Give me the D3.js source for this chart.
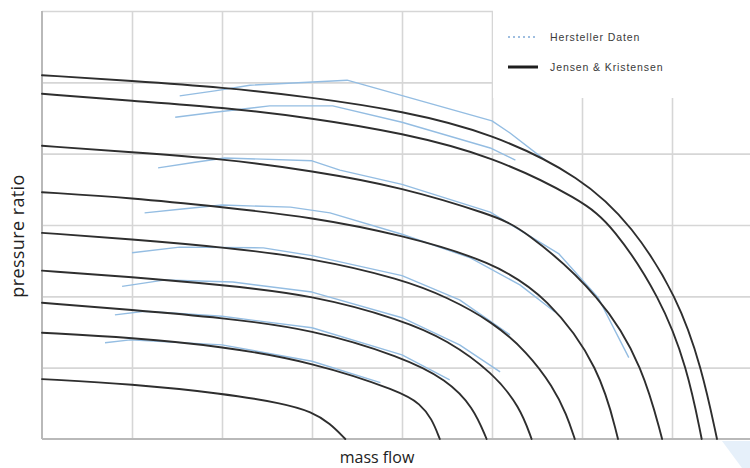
<!DOCTYPE html>
<html>
<head>
<meta charset="utf-8">
<script src="https://cdn.jsdelivr.net/npm/d3@7"></script>
<style>
  body { margin: 0; background: #fff; }
  svg { display: block; }
</style>
</head>
<body>
<svg id="chart" width="750" height="468"></svg>
<script>
// Grid positions (arbitrary units, axes carry no labels)
const massFlowTicks = [0, 1, 2, 3, 4, 5, 6, 7, 8];
const pressureTicks = [0, 1, 2, 3, 4, 5, 6];

// Jensen & Kristensen model: one speed line each, [mass flow, pressure ratio]
const jk1 = [[0,5.10],[1,5.02],[2,4.93],[3,4.79],[4,4.60],[5,4.29],[6,3.67],[6.56,2.99],[7.06,1.99],[7.33,1.00],[7.5,0]];
const jk2 = [[0,4.84],[1,4.74],[2,4.65],[3,4.50],[4,4.29],[5,3.97],[6,3.35],[6.34,2.99],[6.87,1.99],[7.17,1.00],[7.33,0]];
const jk3 = [[0,4.11],[1,4.02],[2,3.93],[3,3.76],[4,3.53],[5,3.14],[5.34,2.96],[6.23,1.99],[6.68,1.00],[6.89,0]];
const jk4 = [[0,3.46],[1,3.38],[2,3.25],[3,3.11],[4,2.86],[5,2.49],[5.62,1.99],[6.2,1.00],[6.4,0]];
const jk5 = [[0,2.89],[1,2.80],[2,2.69],[3,2.54],[4,2.24],[4.5,1.99],[5.01,1.64],[5.39,1.22],[5.68,0.73],[5.83,0.34],[5.92,0]];
const jk6 = [[0,2.36],[1,2.27],[2,2.16],[3,2.02],[4,1.67],[4.5,1.39],[5.01,0.93],[5.31,0.45],[5.44,0]];
const jk7 = [[0,1.91],[1,1.81],[2,1.70],[3,1.54],[4,1.15],[4.5,0.83],[4.79,0.45],[4.94,0]];
const jk8 = [[0,1.49],[1,1.42],[2,1.30],[3,1.08],[4,0.66],[4.2,0.49],[4.33,0.29],[4.42,0]];
const jk9 = [[0,0.84],[1,0.77],[2,0.64],[2.68,0.50],[3,0.38],[3.2,0.22],[3.37,0]];

// Manufacturer map (Hersteller Daten), measured speed lines
const hd1 = [[1.53,4.81],[1.92,4.88],[2.31,4.96],[3.39,5.03],[5.0,4.46],[5.2,4.29],[5.59,3.91]];
const hd2 = [[1.48,4.51],[1.92,4.58],[2.53,4.67],[3.23,4.67],[4.0,4.44],[4.98,4.08],[5.26,3.91]];
const hd3 = [[1.29,3.80],[1.7,3.88],[2.03,3.94],[3.0,3.90],[3.31,3.77],[4.0,3.57],[4.98,3.18],[5.74,2.60],[6.18,1.98],[6.52,1.14]];
const hd4 = [[1.14,3.17],[1.53,3.22],[2.0,3.28],[2.76,3.25],[3.2,3.17],[4.0,2.87],[4.76,2.54],[5.31,2.16],[5.7,1.78]];
const hd5 = [[1.0,2.61],[1.53,2.69],[2.46,2.68],[3.0,2.57],[4.0,2.29],[4.64,1.95],[5.2,1.46]];
const hd6 = [[0.89,2.14],[1.37,2.23],[2.12,2.20],[3.0,2.06],[4.0,1.70],[4.64,1.32],[5.09,0.94]];
const hd7 = [[0.81,1.74],[1.14,1.79],[2.0,1.72],[3.0,1.56],[4.0,1.18],[4.53,0.83]];
const hd8 = [[0.7,1.35],[0.98,1.39],[2.0,1.32],[3.0,1.09],[3.76,0.79]];

const legendLabels = ["Hersteller Daten", "Jensen & Kristensen"];

const jensenLines = [jk1, jk2, jk3, jk4, jk5, jk6, jk7, jk8, jk9];
const herstellerLines = [hd1, hd2, hd3, hd4, hd5, hd6, hd7, hd8];

const svg = d3.select("#chart");
const plotLeft = 42, plotRight = 762, plotTop = 11, plotBottom = 439;

const x = d3.scaleLinear().domain([0, 8]).range([plotLeft, plotRight]);
const y = d3.scaleLinear().domain([0, 6]).range([plotBottom, plotTop]);

// soft background decoration in the corners
svg.append("path")
  .attr("d", "M578,0 L750,0 L750,9 L588,9 Z")
  .attr("fill", "#edf4fb");
svg.append("path")
  .attr("d", "M722,441 L750,441 L750,468 L742,468 Z")
  .attr("fill", "#e6f0fa");

// grid
const gridColor = "#d6d6d6";
const gx = svg.append("g")
  .attr("transform", `translate(0,${plotBottom})`)
  .call(d3.axisBottom(x).tickValues(massFlowTicks.slice(1)).tickSize(-(plotBottom - plotTop)).tickFormat(""));
gx.select(".domain").remove();
gx.selectAll("line").attr("stroke", gridColor).attr("stroke-width", 1.6);

const gy = svg.append("g")
  .attr("transform", `translate(${plotLeft},0)`)
  .call(d3.axisLeft(y).tickValues(pressureTicks.slice(1)).tickSize(-(plotRight - plotLeft)).tickFormat(""));
gy.select(".domain").remove();
gy.selectAll("line").attr("stroke", gridColor).attr("stroke-width", 1.6);

// legend panel covers the grid in the top-right corner
svg.append("rect")
  .attr("x", x(5) + 1).attr("y", 0)
  .attr("width", 750 - x(5)).attr("height", 98)
  .attr("fill", "#fff");

// axis frame (left and bottom)
svg.append("line")
  .attr("x1", plotLeft).attr("x2", plotLeft).attr("y1", plotTop).attr("y2", plotBottom)
  .attr("stroke", "#b9b9b9").attr("stroke-width", 2);
svg.append("line")
  .attr("x1", plotLeft).attr("x2", 750).attr("y1", plotBottom).attr("y2", plotBottom)
  .attr("stroke", "#b9b9b9").attr("stroke-width", 2);

const plot = svg.append("g");

// manufacturer lines (piecewise linear)
const lineLinear = d3.line().x(d => x(d[0])).y(d => y(d[1])).curve(d3.curveLinear);
plot.selectAll("path.hd")
  .data(herstellerLines)
  .join("path")
  .attr("class", "hd")
  .attr("d", lineLinear)
  .attr("fill", "none")
  .attr("stroke", "#94bde2")
  .attr("stroke-width", 1.4)
  .attr("stroke-linejoin", "round");

// model lines (smoothed B-spline through the speed-line points)
const lineSmooth = d3.line().x(d => x(d[0])).y(d => y(d[1])).curve(d3.curveBasis);
plot.selectAll("path.jk")
  .data(jensenLines)
  .join("path")
  .attr("class", "jk")
  .attr("d", lineSmooth)
  .attr("fill", "none")
  .attr("stroke", "#2e2e2e")
  .attr("stroke-width", 1.9)
  .attr("stroke-linecap", "round");

// legend
const legend = svg.append("g").attr("transform", "translate(508,0)");
legend.append("line")
  .attr("x1", 0).attr("x2", 30).attr("y1", 37).attr("y2", 37)
  .attr("stroke", "#7fa9d6").attr("stroke-width", 1.6)
  .attr("stroke-dasharray", "2,3");
legend.append("line")
  .attr("x1", 0).attr("x2", 30).attr("y1", 67).attr("y2", 67)
  .attr("stroke", "#1e1e1e").attr("stroke-width", 3);
legend.selectAll("text")
  .data(legendLabels)
  .join("text")
  .attr("x", 42)
  .attr("y", (d, i) => 37 + i * 30)
  .attr("dy", "0.35em")
  .attr("font-family", "Liberation Sans, Arial, sans-serif")
  .attr("font-size", 10.5)
  .attr("letter-spacing", 0.9)
  .attr("fill", "#3a3a3a")
  .text(d => d);

// axis titles
svg.append("text")
  .attr("x", 377)
  .attr("y", 463)
  .attr("text-anchor", "middle")
  .attr("font-family", "Open Sans, sans-serif")
  .attr("font-size", 16)
  .attr("fill", "#222")
  .text("mass flow");

svg.append("text")
  .attr("transform", "translate(24,236) rotate(-90)")
  .attr("text-anchor", "middle")
  .attr("font-family", "Open Sans, sans-serif")
  .attr("font-size", 18)
  .attr("letter-spacing", 0.4)
  .attr("fill", "#222")
  .text("pressure ratio");
</script>
</body>
</html>
